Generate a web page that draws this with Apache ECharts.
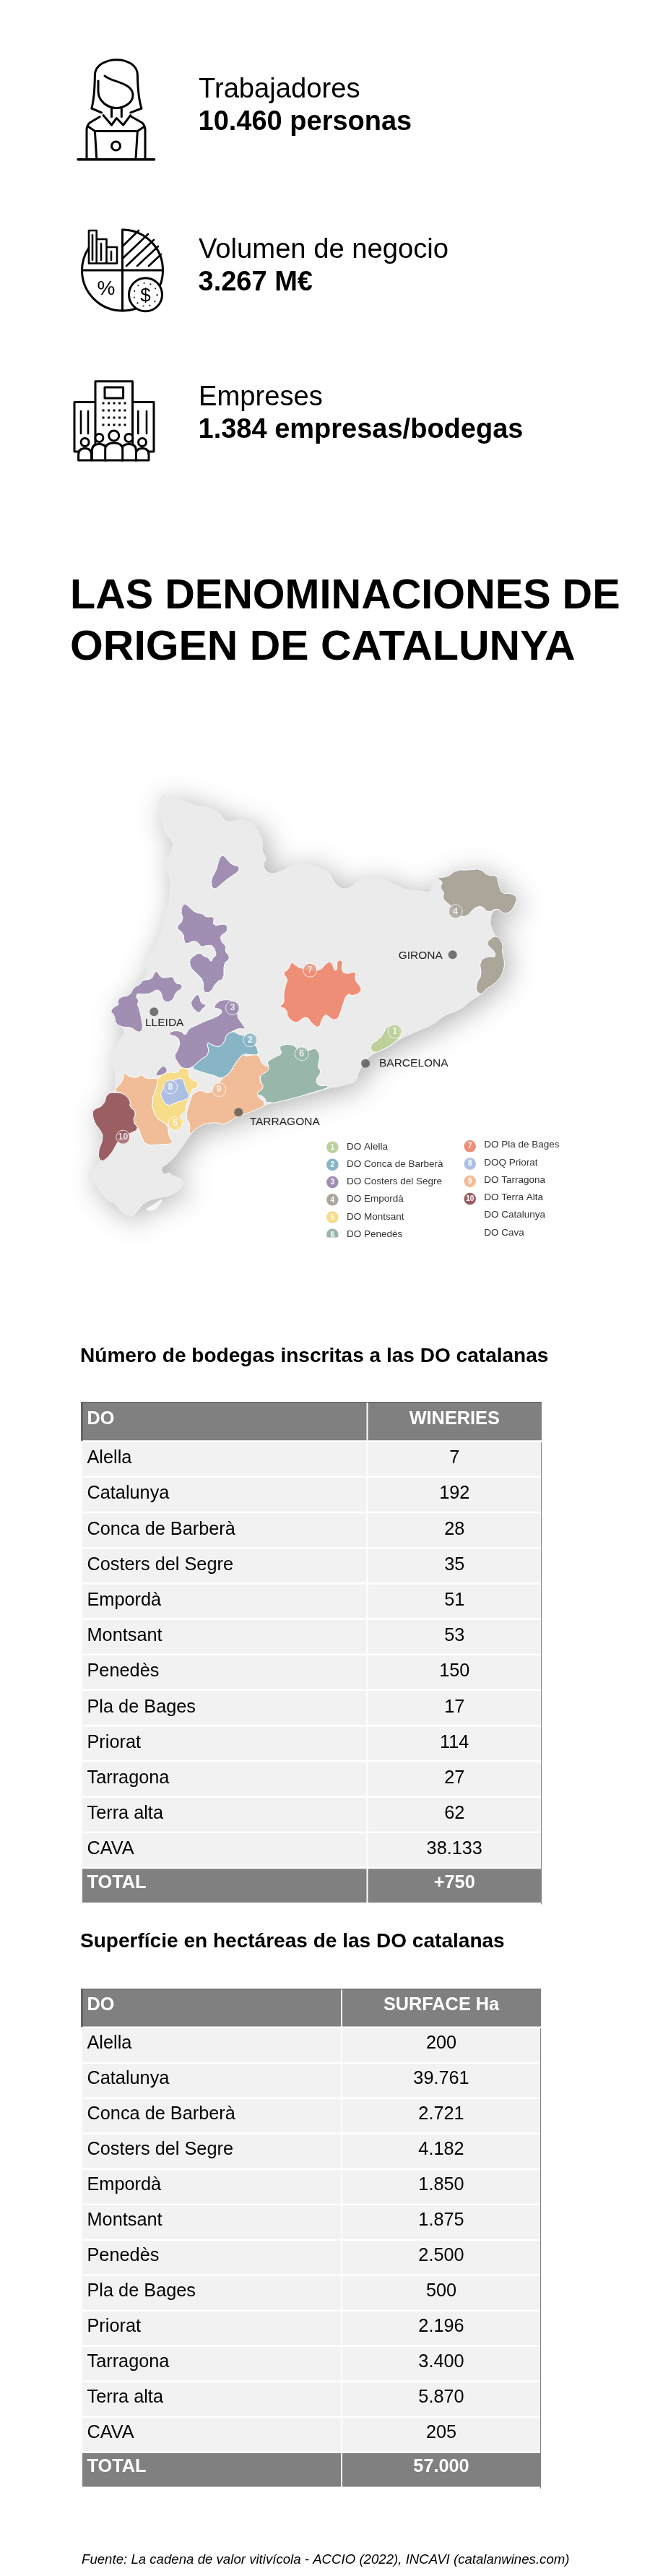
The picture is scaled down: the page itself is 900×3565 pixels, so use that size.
<!DOCTYPE html>
<html><head><meta charset="utf-8">
<style>html,body{margin:0;padding:0;background:#fff}#c{width:900px;height:3565px}</style>
<script src="https://cdn.jsdelivr.net/npm/echarts@6/dist/echarts.min.js"></script>
</head><body><div id="c"></div>
<script>
// ---------- data ----------
const statLabels = ['Trabajadores', 'Volumen de negocio', 'Empreses'];
const statValues = ['10.460 personas', '3.267 M€', '1.384 empresas/bodegas'];
const mainTitle = ['LAS DENOMINACIONES DE', 'ORIGEN DE CATALUNYA'];
const table1Title = 'Número de bodegas inscritas a las DO catalanas';
const table2Title = 'Superfície en hectáreas de las DO catalanas';
const sourceText = 'Fuente: La cadena de valor vitivícola - ACCIO (2022), INCAVI (catalanwines.com)';
const doNames = ['Alella', 'Catalunya', 'Conca de Barberà', 'Costers del Segre', 'Empordà', 'Montsant', 'Penedès', 'Pla de Bages', 'Priorat', 'Tarragona', 'Terra alta', 'CAVA', 'TOTAL'];
const wineries = ['7', '192', '28', '35', '51', '53', '150', '17', '114', '27', '62', '38.133', '+750'];
const surfaceHa = ['200', '39.761', '2.721', '4.182', '1.850', '1.875', '2.500', '500', '2.196', '3.400', '5.870', '205', '57.000'];
const table1Head = ['DO', 'WINERIES'];
const table2Head = ['DO', 'SURFACE Ha'];
const legendCol1 = ['DO Alella', 'DO Conca de Barberà', 'DO Costers del Segre', 'DO Empordà', 'DO Montsant', 'DO Penedès'];
const legendCol2 = ['DO Pla de Bages', 'DOQ Priorat', 'DO Tarragona', 'DO Terra Alta', 'DO Catalunya', 'DO Cava'];
const doColors = ['#bdd09b', '#87b5c6', '#a08fb2', '#aba59a', '#f7dc8a', '#98b6a9', '#ee8e76', '#adc0e4', '#f0bd98', '#9a5e63'];
const cityNames = ['LLEIDA', 'GIRONA', 'BARCELONA', 'TARRAGONA'];
const cityDots = [[213.3, 1400.3], [626.7, 1321.3], [506, 1471.7], [330.3, 1539.3]];
const cityLabels = [[201, 1420.7], [551.7, 1328.3], [525, 1476.7], [345.7, 1558.3]];
const badges = [[546.7, 1427.3], [346.3, 1439.3], [322, 1395], [630.7, 1261.3], [242.7, 1555], [417.7, 1458.3], [429.3, 1342.7], [236, 1504.3], [303.3, 1508], [170.3, 1573.7]];

// map outlines
const a = (ox, oy) => pts => pts.map(p => [ox + p[0] / 3, oy + p[1] / 3]);
const N = a(130, 1090), S = a(110, 1390), E = a(420, 1180), M = a(300, 1340);
const outline = [
  ...N([[290,22],[330,42],[380,55],[425,75],[445,75],[490,85],[520,100],[540,130],[558,143],[600,130],[660,142],[690,190],[705,225],[700,265],[720,295],[705,320],[715,348],[745,357],[790,340],[835,312],[860,315]]),
  ...E([[30,48],[70,60],[110,80],[130,125],[160,150],[195,145],[235,105],[275,105],[330,105],[380,130],[430,155],[480,155],[525,165],[530,140],[552,105],[600,100],[635,72],[690,72],[735,67],[765,95],[805,95],[810,130],[825,170],[860,168],[890,185],[875,225],[860,245],[835,255],[808,235],[785,245],[777,290],[790,330],[800,345],[825,375],[825,410],[838,460],[825,510],[795,545],[760,565],[740,590],[705,610],[650,655],[590,675],[540,715],[470,745],[400,775],[345,815],[290,835]]),
  ...M([[625,380],[590,430],[585,465],[560,480],[520,490],[460,500],[400,520],[320,540],[210,565],[160,590],[120,600],[90,605],[60,625],[25,650]]),
  ...S([[570,490],[520,495],[485,515],[460,545],[430,590],[400,630],[370,660],[340,680],[350,705],[375,695],[385,710],[420,720],[435,740],[420,770],[380,795],[330,805],[275,820],[240,860],[220,885],[180,870],[150,830],[110,810],[80,770],[55,735],[25,718],[60,680],[90,650],[75,620],[100,550],[85,520],[65,495],[55,465],[55,438],[100,420],[115,370],[145,360],[150,330],[145,310],[150,280],[125,240],[145,190],[170,140],[190,110],[160,85],[128,28],[165,0]]),
  ...N([[108,870],[150,860],[165,830],[195,815],[205,790],[225,770],[205,725],[225,695],[260,640],[285,580],[290,540],[310,480],[315,430],[315,370],[290,315],[310,285],[325,250],[325,220],[295,195],[280,140],[265,90],[275,40]])
];
const bay = S([[275,850],[310,830],[345,805],[340,825],[315,855],[285,858]]);
const alella = E([[275,800],[320,770],[335,745],[350,720],[385,715],[405,760],[395,775],[345,812],[290,835]]);
const conca = S([[465,265],[500,232],[540,205],[528,155],[555,170],[580,178],[603,155],[610,125],[640,110],[660,125],[690,130],[735,170],[745,210],[715,210],[680,205],[650,240],[625,285],[590,310],[560,295],[520,285],[490,275]]);
const costersA = N([[535,278],[555,300],[570,318],[605,328],[600,350],[560,375],[530,400],[505,422],[490,415],[487,380],[510,340],[520,295]]);
const costersB = N([[375,478],[395,495],[420,518],[455,525],[465,538],[500,535],[495,575],[540,565],[555,575],[553,598],[525,615],[530,640],[550,660],[545,680],[563,700],[560,715],[540,730],[540,795],[510,805],[485,850],[455,852],[455,800],[425,770],[400,745],[397,715],[420,695],[440,685],[455,700],[475,705],[487,725],[495,705],[510,695],[495,655],[470,655],[445,662],[435,645],[415,635],[385,650],[375,640],[372,605],[340,582],[372,550],[360,510]]);
const costersC = [...N([[430,855],[403,888]]), ...S([[465,5],[475,20],[498,38],[510,18],[530,3]]), ...N([[445,895],[440,870]])];
const costersD = [...N([[262,760],[275,785],[295,790],[330,783],[337,812],[367,817],[365,835],[340,850],[330,880],[305,893],[285,880],[280,850],[262,837],[235,855],[205,858],[180,855],[175,870],[188,885],[180,900]]), ...S([[245,5],[255,45],[265,105],[245,118],[215,95],[180,95],[150,80],[145,45],[128,28],[145,10],[165,0]]), ...N([[97,890],[108,870],[150,862],[165,830],[195,815],[200,800],[240,795],[250,770]])];
const costersE = S([[555,15],[578,-15],[610,-20],[640,-15],[660,10],[655,50],[675,80],[692,103],[660,100],[640,110],[610,125],[603,155],[580,178],[555,170],[528,155],[540,205],[500,232],[465,265],[430,268],[410,245],[393,215],[408,190],[418,160],[408,135],[370,125],[385,110],[420,110],[440,130],[455,100],[490,85],[520,70],[550,60],[590,40],[590,20]]);
const costersF = S([[315,298],[325,275],[352,250],[368,280],[340,295]]);
const empordaN = E([[552,105],[580,122],[568,145],[585,165],[578,190],[605,215],[625,230],[640,265],[680,265],[710,230],[740,220],[768,250],[805,230],[835,255],[860,245],[875,225],[890,185],[860,168],[825,170],[810,130],[805,95],[765,95],[735,67],[690,72],[635,72],[600,100]]);
const empordaS = E([[795,345],[815,355],[830,385],[825,410],[838,460],[825,510],[795,545],[760,565],[740,590],[718,575],[720,540],[740,510],[732,450],[765,430],[798,435],[795,410],[770,390],[762,370]]);
const montsant = S([[325,305],[365,280],[410,285],[415,262],[455,268],[455,300],[472,317],[492,318],[492,347],[465,352],[460,385],[440,420],[445,440],[415,465],[440,490],[400,520],[368,500],[315,470],[298,405],[325,330]]);
const penedes = M([[265,320],[300,315],[325,322],[340,345],[390,340],[410,330],[430,360],[425,385],[420,410],[435,430],[410,465],[425,490],[462,485],[462,497],[400,515],[320,540],[210,565],[195,530],[160,525],[195,495],[175,450],[218,408],[208,388],[240,370],[272,355],[262,335]]);
const plaBages = [...N([[785,770],[810,752],[820,722],[842,742],[868,752]]), ...E([[50,490],[75,483],[90,465],[110,450],[122,465],[130,490],[140,487],[140,445],[165,450],[158,480],[170,505],[222,492],[212,525],[240,560],[240,578],[208,595],[180,585]]), ...M([[520,165],[505,210],[480,215],[455,190],[440,205],[425,250],[395,230],[380,205],[360,205],[330,230],[295,205],[290,170],[258,158],[280,145],[278,105],[287,68],[295,45]])];
const priorat = S([[395,312],[430,305],[440,345],[460,385],[430,400],[405,405],[365,425],[335,380],[345,350],[370,330]]);
const tarragonaE = S([[455,545],[460,500],[440,465],[460,400],[470,370],[505,355],[530,370],[550,360],[585,320],[590,310],[625,285],[650,240],[680,205],[690,215],[715,210],[745,210],[760,250],[790,260],[780,280],[750,295],[750,320],[768,345],[730,375],[780,415],[730,440],[660,465],[600,500],[570,490],[520,495],[485,515]]);
const tarragonaW = S([[140,360],[180,320],[185,280],[205,300],[240,305],[255,290],[280,310],[325,305],[325,330],[298,405],[315,470],[368,500],[370,545],[392,578],[340,582],[275,585],[255,545],[248,518],[222,487],[235,445],[208,425],[212,400],[185,370]]);
const terraAlta = S([[115,370],[145,365],[185,370],[212,400],[208,425],[235,445],[222,487],[248,518],[200,540],[165,560],[130,625],[90,657],[75,620],[100,550],[85,520],[65,495],[55,465],[55,438],[100,420]]);
const regionShapes = {
  'Base': [outline], 'Bay': [bay],
  'DO Alella': [alella], 'DO Conca de Barberà': [conca],
  'DO Costers del Segre': [costersA, costersB, costersC, costersD, costersE, costersF],
  'DO Empordà': [empordaN, empordaS], 'DO Montsant': [montsant], 'DO Penedès': [penedes],
  'DO Pla de Bages': [plaBages], 'DOQ Priorat': [priorat],
  'DO Tarragona': [tarragonaE, tarragonaW], 'DO Terra Alta': [terraAlta]
};

// ---------- layout ----------
const FONT = '"Liberation Sans", Arial, sans-serif';
const INK = '#000';
// round the traced corners of a ring so that outlines read as curves
function roundCorners(r) {
  const out = [];
  r.forEach((p, i) => {
    const q = r[(i + 1) % r.length];
    out.push([p[0] * 0.75 + q[0] * 0.25, p[1] * 0.75 + q[1] * 0.25], [p[0] * 0.25 + q[0] * 0.75, p[1] * 0.25 + q[1] * 0.75]);
  });
  return out;
}
const geoFeatures = Object.keys(regionShapes).map(name => ({
  type: 'Feature', properties: { name },
  geometry: { type: 'MultiPolygon', coordinates: regionShapes[name].map(r => { const s = roundCorners(r); return [[...s, s[0]]]; }) }
}));
echarts.registerMap('catalunya', { type: 'FeatureCollection', features: geoFeatures });

const g = [];
function text(t, x, baseline, size, o) {
  o = o || {};
  g.push({ type: 'text', x, y: baseline - size * 0.3465, scaleX: o.sx || 1, z: o.z || 10, style: {
    text: t, fill: o.fill || INK, font: (o.style ? o.style + ' ' : '') + (o.weight ? o.weight + ' ' : '') + size + 'px ' + FONT,
    textAlign: o.align || 'left', textVerticalAlign: 'middle' } });
}
let pathId = 0;
function shapeFrom(d) {
  const name = 'iconPath' + (pathId++);
  echarts.graphic.registerShape(name, echarts.graphic.extendPath(d));
  return name;
}
function stroke(d, o) {
  o = o || {};
  g.push({ type: shapeFrom(d), z: o.z || 5, style: {
    fill: o.fill || 'none', stroke: '#000', lineWidth: o.w || 3, lineCap: 'round', lineJoin: 'round' } });
}
// stats
[[138, 183], [359.5, 405], [564, 609]].forEach((b, i) => {
  text(statLabels[i], 275, b[0], 38.2);
  text(statValues[i], 274.5, b[1], 38, { weight: 'bold' });
});
// main title
text(mainTitle[0], 97, 846, 57.6, { weight: 'bold' });
text(mainTitle[1], 97, 917, 57.6, { weight: 'bold', sx: 1.023 });
// section titles
text(table1Title, 111, 1887, 28.05, { weight: 'bold' });
text(table2Title, 111, 2696.5, 28.05, { weight: 'bold' });
text(sourceText, 113, 3549, 18.65, { style: 'italic' });

// icon 1: person at a laptop
stroke('M140.6 155.8 L126.8 150 Q131 135 131.4 104 C131.4 90 147 82.7 161.4 82.7 C176 82.7 190.4 90 190.4 104 Q191 135 196 150 L180.7 155.8');
stroke('M145 105 C155 114 184 114 184 132 C184 142 172 149.5 161 149.5 C149 149.5 136 140 136 126 L136 112');
stroke('M154.5 149 L154.5 161.5 M168.3 149 L168.3 161.5 M143 159.6 L154.5 173 L161.4 163.5 L170.6 173 L180.7 159.6');
stroke('M138.3 161.5 L124 170 Q120 174 120 180 L120 219 M182 161.5 L197 170 Q201 174 201 180 L201 219 M122 175 L131.4 181.5 L133.7 219 M200 175 L190.4 181.5 L188 219 M131.4 181.5 L190.4 181.5');
stroke('M108 220.8 L213.5 220.8', { w: 3.6 });
stroke('M166.5 202 A6 6 0 1 1 154.5 202 A6 6 0 1 1 166.5 202');
// icon 2: pie with charts
stroke('M169.5 318 A56 56 0 0 1 225.5 374 A56 56 0 0 1 169.5 430 A56 56 0 0 1 113.5 374 A56 56 0 0 1 123 343');
stroke('M169.5 318 L169.5 430 M113.5 374 L225.5 374');
stroke('M123 364.5 L123 319 L133.7 319 L133.7 364.5 M133.7 331 L147.5 331 L147.5 364.5 M147.5 342 L162 342 L162 364.5 L123 364.5 M128 325 L128 360 M140 337 L140 360 M154 348 L154 360', { w: 2.6 });
stroke('M169.5 341 L192 319 M169.5 358 L205 324 M175 368 L213 332 M190 368 L219 341 M206 368 L223 352', { w: 2.6 });
g.push({ type: 'circle', z: 6, shape: { cx: 201.5, cy: 407.7, r: 23 }, style: { fill: '#fff', stroke: '#000', lineWidth: 3 } });
g.push({ type: 'circle', z: 6, shape: { cx: 201.5, cy: 407.7, r: 16 }, style: { fill: 'none', stroke: '#000', lineWidth: 1.6, lineDash: [2, 7] } });
text('$', 201.5, 419, 26, { align: 'center', z: 7 });
text('%', 147, 410, 28, { align: 'center', z: 7 });
// icon 3: office buildings and people
stroke('M132 625 L132 527.7 L183.5 527.7 L183.5 625 M132 556.5 L103 556.5 L103 625 L213 625 L213 556.5 L183.5 556.5', { w: 3 });
stroke('M145 536 L170.6 536 L170.6 551 L145 551 Z', { w: 3 });
stroke('M112 569 L112 600 M122 569 L122 600 M191.3 569 L191.3 600 M203 569 L203 600', { w: 2.6 });
[558, 568, 578, 588].forEach(y => [143, 150.5, 158, 165.5, 173].forEach(x => {
  g.push({ type: 'rect', z: 5, shape: { x: x - 1.5, y: y - 1.5, width: 3, height: 3 }, style: { fill: '#000' } });
}));
[[117.6, 612, 9], [197, 612, 9], [137.4, 606, 10], [178.4, 606, 10], [157.7, 603, 12]].forEach(p => {
  const x = p[0], y = p[1], w = p[2], h = w === 12 ? 7 : 5.5;
  g.push({ type: shapeFrom(`M${x - w} 637 L${x - w} ${y + h + 12} Q${x - w} ${y + h + 3} ${x} ${y + h + 3} Q${x + w} ${y + h + 3} ${x + w} ${y + h + 12} L${x + w} 637 Z`), z: 6, style: { fill: '#fff', stroke: '#000', lineWidth: 3, lineJoin: 'round' } });
  g.push({ type: 'circle', z: 6, shape: { cx: x, cy: y, r: h }, style: { fill: '#fff', stroke: '#000', lineWidth: 3 } });
});
// legend
legendCol1.forEach((t, i) => {
  const b = 1591.7 + i * 24.2;
  g.push({ type: 'circle', z: 8, shape: { cx: 460.3, cy: b - 4, r: 8.3 }, style: { fill: doColors[i] } });
  text(String(i + 1), 460.3, b, 10, { align: 'center', fill: '#fff', weight: 'bold', z: 9 });
  text(t, 480, b, 13.5, { fill: '#333' });
});
legendCol2.forEach((t, i) => {
  const b = 1589.3 + i * 24.28;
  if (i < 4) {
    g.push({ type: 'circle', z: 8, shape: { cx: 650.7, cy: b - 3, r: 8.3 }, style: { fill: doColors[i + 6] } });
    text(String(i + 7), 650.7, b + 0.5, 10, { align: 'center', fill: '#fff', weight: 'bold', z: 9 });
  }
  text(t, 670.3, b, 13.5, { fill: '#333' });
});
g.push({ type: 'rect', z: 20, shape: { x: 440, y: 1712.6, width: 200, height: 8 }, style: { fill: '#fff' } });
// city names
cityNames.forEach((t, i) => text(t, cityLabels[i][0], cityLabels[i][1], 15.5, { fill: '#222', z: 12 }));

// tables
const GAP = 2.6;
const tableSpec = [
  { top: 1995.9, pitch: 49.2, left: 114, right: 750, split: 508.5, head: table1Head, vals: wineries, headTop: 1940, lift: 2.2, liftTotal: 4.6, liftHead: 2.4 },
  { top: 2807, pitch: 49, left: 114, right: 749, split: 473, head: table2Head, vals: surfaceHa, headTop: 2752.5, lift: 3, liftTotal: 5, liftHead: 3.7 }
];
function tableRender(spec) {
  return function (params, api) {
    const i = api.value(0), last = i === doNames.length - 1;
    const p0 = api.coord([0, i]), band = api.size([0, 1])[1];
    const top = p0[1] - band / 2, L = spec.left, R = spec.right, C = spec.split, h = band - GAP;
    const fill = last ? '#808080' : '#f2f2f2', col = last ? '#fff' : '#000', w = last ? 'bold ' : '';
    const lift = last ? spec.liftTotal : spec.lift;
    const fs = 25.3;
    const kids = [
      { type: 'rect', shape: { x: L, y: top, width: C - L - 1, height: h }, style: { fill } },
      { type: 'rect', shape: { x: C + 1, y: top, width: R - C - 1, height: h }, style: { fill } },
      { type: 'rect', shape: { x: R - 1, y: top, width: 1, height: band }, style: { fill: '#808080' } },
      { type: 'text', x: 120.5, y: top + band / 2 - lift, style: { text: doNames[i], fill: col, font: w + fs + 'px ' + FONT, textAlign: 'left', textVerticalAlign: 'middle' } },
      { type: 'text', x: (C + R) / 2, y: top + band / 2 - lift, style: { text: spec.vals[i], fill: col, font: w + fs + 'px ' + FONT, textAlign: 'center', textVerticalAlign: 'middle' } }
    ];
    if (i === 0) {
      const ht = spec.headTop, hh = top - GAP - ht, hy = ht + hh / 2 - spec.liftHead;
      kids.push(
        { type: 'rect', shape: { x: L - 1.6, y: ht, width: C - L + 0.6, height: hh }, style: { fill: '#808080' } },
        { type: 'rect', shape: { x: C + 1, y: ht, width: R - C - 1, height: hh }, style: { fill: '#808080' } },
        { type: 'rect', shape: { x: L - 1.6, y: ht, width: 2, height: hh + 1 }, style: { fill: '#4a4a4a' } },
        { type: 'rect', shape: { x: L - 1.6, y: ht, width: R - L + 1.6, height: 1 }, style: { fill: '#5e5e5e' } },
        { type: 'text', x: 120.5, y: hy, style: { text: spec.head[0], fill: '#fff', font: 'bold ' + fs + 'px ' + FONT, textAlign: 'left', textVerticalAlign: 'middle' } },
        { type: 'text', x: (C + R) / 2, y: hy, style: { text: spec.head[1], fill: '#fff', font: 'bold ' + fs + 'px ' + FONT, textAlign: 'center', textVerticalAlign: 'middle' } }
      );
    }
    return { type: 'group', children: kids };
  };
}

const chart = echarts.init(document.getElementById('c'), null, { width: 900, height: 3565 });
chart.setOption({
  animation: false,
  backgroundColor: '#fff',
  graphic: g,
  geo: {
    map: 'catalunya', silent: true, roam: false,
    projection: { project: p => p, unproject: p => p },
    boundingCoords: [[0, 0], [900, 3565]],
    left: 0, top: 0, width: 900, height: 3565,
    label: { show: false },
    itemStyle: { areaColor: '#ebebeb', borderColor: '#fff', borderWidth: 1 },
    regions: [
      { name: 'Base', itemStyle: { areaColor: '#ebebeb', borderWidth: 0, borderColor: '#ebebeb', shadowBlur: 38, shadowColor: 'rgba(0,0,0,0.3)', shadowOffsetX: 7, shadowOffsetY: 6 } },
      { name: 'Bay', itemStyle: { areaColor: '#f6f6f6', borderWidth: 0 } },
      ...legendCol1.concat(legendCol2.slice(0, 4)).map((n, i) => ({ name: n, itemStyle: { areaColor: doColors[i], borderColor: '#fff', borderWidth: 1 } }))
    ]
  },
  grid: tableSpec.map(s => ({ left: s.left, width: s.right - s.left, top: s.top, height: s.pitch * doNames.length, show: false })),
  xAxis: tableSpec.map((s, i) => ({ type: 'value', gridIndex: i, min: 0, max: 1, show: false })),
  yAxis: tableSpec.map((s, i) => ({ type: 'category', gridIndex: i, data: doNames, inverse: true, show: false })),
  series: [
    ...tableSpec.map((s, i) => ({
      type: 'custom', xAxisIndex: i, yAxisIndex: i, silent: true, clip: false,
      encode: { x: 1, y: 0 },
      data: doNames.map((n, k) => [k, 0]),
      renderItem: tableRender(s)
    })),
    { type: 'scatter', coordinateSystem: 'geo', silent: true, symbol: 'circle', symbolSize: 12, z: 8,
      itemStyle: { color: '#555' }, data: cityDots },
    { type: 'scatter', coordinateSystem: 'geo', silent: true, symbol: 'circle', symbolSize: 19, z: 9,
      data: badges.map((b, i) => ({ value: b, itemStyle: { color: doColors[i], borderColor: '#fff', borderWidth: 1 },
        label: { show: true, position: 'inside', formatter: String(i + 1), color: '#fff', fontFamily: FONT, fontWeight: 'bold', fontSize: 12.5 } })) }
  ]
});
</script></body></html>
